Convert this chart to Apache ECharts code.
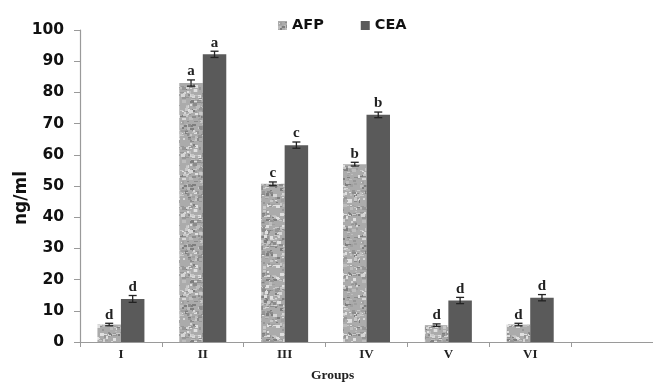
<!DOCTYPE html>
<html>
<head>
<meta charset="utf-8">
<script src="https://cdn.jsdelivr.net/npm/echarts@6/dist/echarts.min.js"></script>
<style>html,body{margin:0;padding:0;background:#fff}#c{width:653px;height:386px}</style>
</head>
<body>
<div id="c"></div>
<script>
var categories = ['I', 'II', 'III', 'IV', 'V', 'VI', ''];
var afpValues = [5.6, 83.0, 50.7, 57.0, 5.4, 5.6];
var ceaValues = [13.8, 92.2, 63.1, 72.8, 13.3, 14.2];
var afpErrors = [0.4, 1.0, 0.6, 0.6, 0.4, 0.4];
var ceaErrors = [1.1, 1.0, 1.0, 0.9, 1.0, 1.0];
var afpLetters = ['d', 'a', 'c', 'b', 'd', 'd'];
var ceaLetters = ['d', 'a', 'c', 'b', 'd', 'd'];
var yTicks = [0, 10, 20, 30, 40, 50, 60, 70, 80, 90, 100];

// granite-like texture for AFP bars (deterministic)
function makeTexture() {
  var cv = document.createElement('canvas');
  cv.width = 60; cv.height = 60;
  var ctx = cv.getContext('2d');
  ctx.fillStyle = '#ababab';
  ctx.fillRect(0, 0, 60, 60);
  var s = 987654;
  function rnd() { s = (s * 1103515245 + 12345) % 2147483648; return s / 2147483648; }
  var shades = ['#8c8c8c', '#969696', '#c8c8c8', '#d6d6d6', '#7e7e7e', '#bdbdbd', '#e0e0e0', '#9f9f9f'];
  for (var k = 0; k < 360; k++) {
    ctx.fillStyle = shades[Math.floor(rnd() * shades.length)];
    var x = Math.floor(rnd() * 60), y = Math.floor(rnd() * 60);
    var w = 2 + Math.floor(rnd() * 3), h = 1 + Math.floor(rnd() * 3);
    ctx.fillRect(x, y, w, h);
  }
  return cv;
}
var tex = makeTexture();
var BAR_W = 23.5;

function errSeries(name, values, errors, letters, sign) {
  var data = values.map(function (v, i) { return [i, v, errors[i]]; });
  return {
    type: 'custom',
    name: name + '_err',
    z: 5,
    silent: true,
    data: data,
    encode: { x: 0, y: 1 },
    renderItem: function (params, api) {
      var i = api.value(0), v = api.value(1), e = api.value(2);
      var letter = letters[params.dataIndex];
      var c = api.coord([i, v]);
      var x = c[0] + sign * BAR_W / 2;
      var yHi = api.coord([i, v + e])[1];
      var yLo = api.coord([i, v - e])[1];
      var half = 4;
      var st = { stroke: '#222', lineWidth: 1.3 };
      return {
        type: 'group',
        children: [
          { type: 'line', shape: { x1: x, y1: yHi, x2: x, y2: yLo }, style: st },
          { type: 'line', shape: { x1: x - half, y1: yHi, x2: x + half, y2: yHi }, style: st },
          { type: 'line', shape: { x1: x - half, y1: yLo, x2: x + half, y2: yLo }, style: st },
          { type: 'text', style: { x: x, y: yHi - 1, text: letter, fill: '#222',
              font: 'bold 15px "Liberation Serif", serif', align: 'center', verticalAlign: 'bottom' } }
        ]
      };
    }
  };
}

var chart = echarts.init(document.getElementById('c'));
chart.setOption({
  animation: false,
  grid: { left: 80, right: -8, top: 30, bottom: 44, containLabel: false },
  legend: {
    data: [{ name: 'AFP' }, { name: 'CEA' }],
    left: 273, top: 13,
    itemWidth: 9, itemHeight: 9, itemGap: 37,
    icon: 'rect',
    textStyle: { fontFamily: '"DejaVu Sans", sans-serif', fontWeight: 'bold', fontSize: 14.5, color: '#111' }
  },
  xAxis: {
    type: 'category',
    data: categories,
    axisLine: { lineStyle: { color: '#9a9a9a', width: 1.2 } },
    axisTick: { show: true, alignWithLabel: false, length: 5, lineStyle: { color: '#9a9a9a' } },
    axisLabel: { fontFamily: '"Liberation Serif", serif', fontWeight: 'bold', fontSize: 13, color: '#222', margin: 6 }
  },
  yAxis: {
    type: 'value',
    min: yTicks[0], max: yTicks[yTicks.length - 1], interval: 10,
    splitLine: { show: false },
    axisLine: { show: true, lineStyle: { color: '#9a9a9a', width: 1.2 } },
    axisTick: { show: true, length: 6, lineStyle: { color: '#9a9a9a' } },
    axisLabel: { fontFamily: '"DejaVu Sans", sans-serif', fontWeight: 'bold', fontSize: 15.5, color: '#111', margin: 16 }
  },
  graphic: [{
    type: 'text', x: 22, y: 198, rotation: Math.PI / 2,
    style: { text: 'ng/ml', font: 'bold 17px "DejaVu Sans", sans-serif', fill: '#111', align: 'center', verticalAlign: 'middle' }
  }, {
    type: 'text', left: 311, top: 369,
    style: { text: 'Groups', font: 'bold 13.5px "Liberation Serif", serif', fill: '#222' }
  }],
  series: [
    { type: 'bar', name: 'AFP', data: afpValues, barWidth: BAR_W, barGap: '0%',
      itemStyle: { color: { image: tex, repeat: 'repeat' } } },
    { type: 'bar', name: 'CEA', data: ceaValues, barWidth: BAR_W, barGap: '0%',
      itemStyle: { color: '#5a5a5a' } },
    errSeries('AFP', afpValues, afpErrors, afpLetters, -1),
    errSeries('CEA', ceaValues, ceaErrors, ceaLetters, 1)
  ]
});
</script>
</body>
</html>
